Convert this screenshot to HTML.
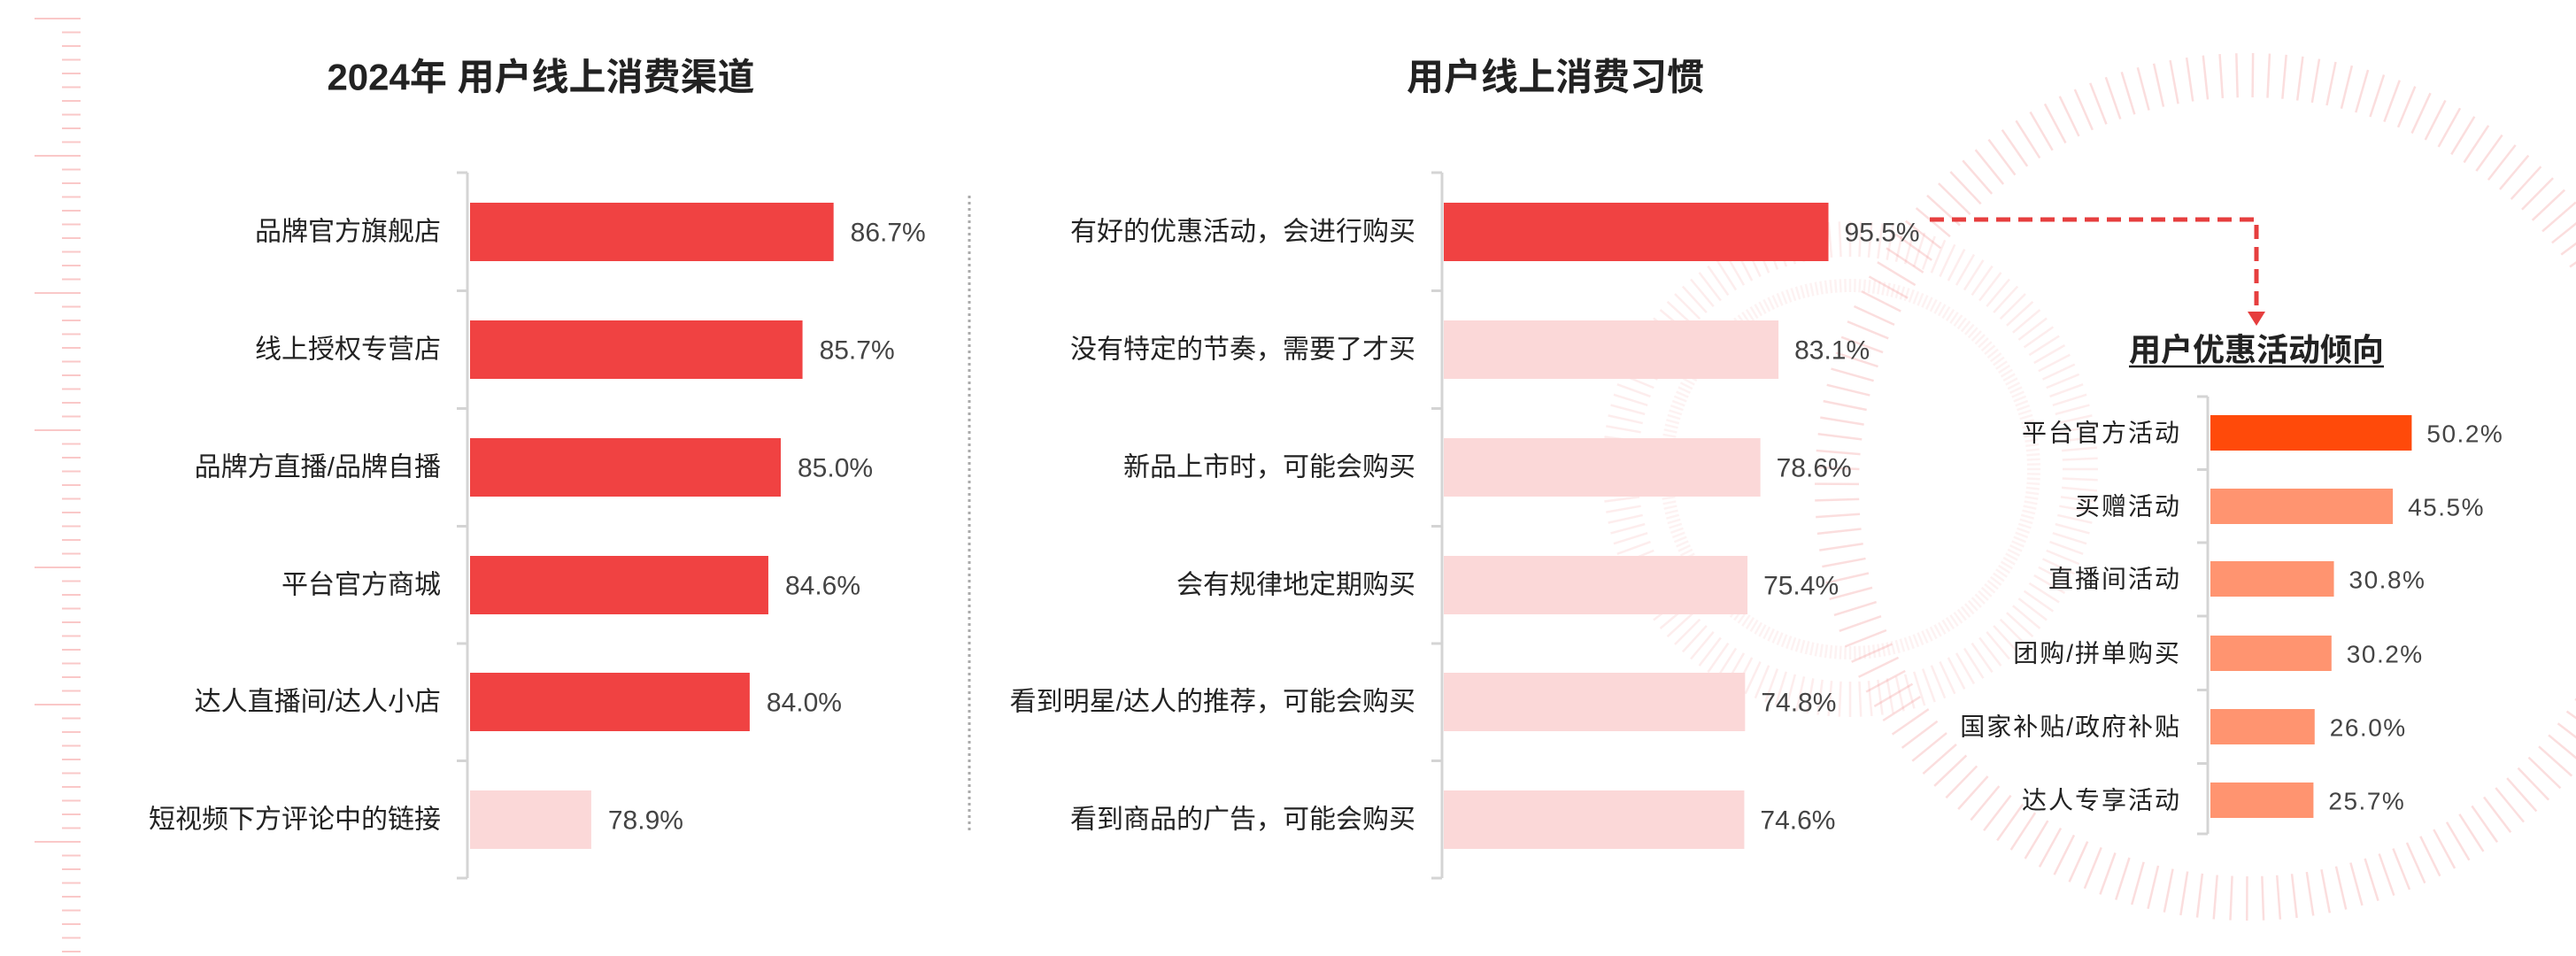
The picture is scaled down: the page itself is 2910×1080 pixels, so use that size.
<!DOCTYPE html>
<html><head><meta charset="utf-8">
<style>
html,body{margin:0;padding:0;background:#fff;}
#wrap{position:relative;width:2910px;height:1080px;overflow:hidden;background:#fff;font-family:"Liberation Sans","Noto Sans CJK SC",sans-serif;}
svg{position:absolute;left:0;top:0;}
</style></head>
<body>
<div id="wrap">
<svg id="svg" width="2910" height="1080" viewBox="0 0 2910 1080">
  <g id="deco"></g>
  <g id="c1"></g>
  <g id="c2"></g>
  <g id="c3"></g>
</svg>
</div>
<script>
// ---- data ----
const channelCats = ["品牌官方旗舰店","线上授权专营店","品牌方直播/品牌自播","平台官方商城","达人直播间/达人小店","短视频下方评论中的链接"];
const channelVals = [86.7,85.7,85.0,84.6,84.0,78.9];
const channelLabels = ["86.7%","85.7%","85.0%","84.6%","84.0%","78.9%"];
const habitCats = ["有好的优惠活动，会进行购买","没有特定的节奏，需要了才买","新品上市时，可能会购买","会有规律地定期购买","看到明星/达人的推荐，可能会购买","看到商品的广告，可能会购买"];
const habitVals = [95.5,83.1,78.6,75.4,74.8,74.6];
const habitLabels = ["95.5%","83.1%","78.6%","75.4%","74.8%","74.6%"];
const promoCats = ["平台官方活动","买赠活动","直播间活动","团购/拼单购买","国家补贴/政府补贴","达人专享活动"];
const promoVals = [50.2,45.5,30.8,30.2,26.0,25.7];
const promoLabels = ["50.2%","45.5%","30.8%","30.2%","26.0%","25.7%"];

const NS="http://www.w3.org/2000/svg";
function mk(tag,attrs,parent){const e=document.createElementNS(NS,tag);for(const k in attrs)e.setAttribute(k,attrs[k]);parent.appendChild(e);return e;}

// ---- decoration ----
const deco=document.getElementById('deco');
for(let i=0;i<70;i++){
  const y=21+i*15.5; const long=(i%10===0);
  const l=mk('line',{x1:long?39:70,x2:91,y1:y,y2:y,stroke:'#fac8c8','stroke-width':2},deco);
  
  
}
function ring(cx,cy,r1,r2,step,op){
  for(let a=0;a<360;a+=step){
    const t=a*Math.PI/180;
    const l=mk('line',{x1:cx+r1*Math.cos(t),y1:cy+r1*Math.sin(t),x2:cx+r2*Math.cos(t),y2:cy+r2*Math.sin(t),stroke:'#f28a8a','stroke-width':2.5,opacity:op},deco);
    
    
  }
}
ring(2540,550,440,490,2.2,0.28);
ring(2090,530,240,280,2.5,0.15);
ring(2090,530,200,215,1.5,0.1);

// ---- generic bar chart ----
function barChart(g,cfg){
  const {cats,vals,labels,x0,scale,yc,bh,axisTop,axisBot,labelRight,fs,vfs,colors,gap,lblColor,valColor,lsp}=cfg;
  const xs=v=>x0+v*scale;
  const ax=mk('line',{x1:cfg.axisX,x2:cfg.axisX,y1:axisTop,y2:axisBot,stroke:'#d4d4d4','stroke-width':3},g);
  
  
  for(let i=0;i<=cats.length;i++){
    const ty=(i===0)?axisTop:(i===cats.length?axisBot:(yc[i-1]+yc[i])/2);
    const t=mk('line',{x1:cfg.axisX-12,x2:cfg.axisX,y1:ty,y2:ty,stroke:'#d4d4d4','stroke-width':3},g);
    
    
  }
  cats.forEach((c,i)=>{
    const y=yc[i];
    const x1=xs(cfg.min),x2=xs(vals[i]);
    const r=mk('rect',{x:x1,y:y-bh/2,width:Math.max(0,x2-x1),height:bh,fill:colors[i]},g);
    
    
    const t=mk('text',{x:labelRight,y:y,'font-size':fs,fill:lblColor,'text-anchor':'end','dominant-baseline':'central','letter-spacing':lsp||0},g);
    t.textContent=c;
    
    
    const v=mk('text',{x:x2+gap,y:y+1,'font-size':vfs,fill:valColor,'dominant-baseline':'central','letter-spacing':cfg.vsp||0},g);
    v.textContent=labels[i];
    
    
  });
}
const rows=[262,395,528,661,793,926];
const RED='#F04242', PINK='#FBD8D8';

// chart 1
const c1=document.getElementById('c1');
const t1=mk('text',{x:611,y:87,'font-size':42,'font-weight':'bold',fill:'#222','text-anchor':'middle','dominant-baseline':'central'},c1);
t1.textContent='2024年 用户线上消费渠道';


barChart(c1,{cats:channelCats,vals:channelVals,labels:channelLabels,min:75,x0:531-75*35.1,scale:35.1,yc:rows,bh:66,axisX:528,axisTop:195,axisBot:992,labelRight:498,fs:30,vfs:30,colors:channelVals.map((v,i)=>i<5?RED:PINK),gap:19,lblColor:'#222',valColor:'#444'});

// separator
const sep=mk('line',{x1:1095,x2:1095,y1:221,y2:940,stroke:'#aaa','stroke-width':3,'stroke-dasharray':'3 4'},document.getElementById('svg'));



// chart 2
const c2=document.getElementById('c2');
const t2=mk('text',{x:1757,y:87,'font-size':42,'font-weight':'bold',fill:'#222','text-anchor':'middle','dominant-baseline':'central'},c2);
t2.textContent='用户线上消费习惯';


barChart(c2,{cats:habitCats,vals:habitVals,labels:habitLabels,min:0,x0:1631,scale:4.55,yc:rows,bh:66,axisX:1629,axisTop:195,axisBot:992,labelRight:1599,fs:30,vfs:30,colors:habitVals.map((v,i)=>i===0?RED:PINK),gap:18,lblColor:'#222',valColor:'#444'});

// dashed arrow
const svg=document.getElementById('svg');
const arr=mk('path',{d:'M2180 248 H2549 V352',fill:'none',stroke:'#E63E3E','stroke-width':5,'stroke-dasharray':'16 9'},svg);


const head=mk('polygon',{points:'2539,352 2559,352 2549,368',fill:'#E63E3E'},svg);



// chart 3
const c3=document.getElementById('c3');
const t3=mk('text',{x:2549,y:395,'font-size':36,'font-weight':'bold',fill:'#222','text-anchor':'middle','dominant-baseline':'central'},c3);
t3.textContent='用户优惠活动倾向';


const ul=mk('line',{x1:2405,x2:2693,y1:414,y2:414,stroke:'#222','stroke-width':2.5},c3);


barChart(c3,{cats:promoCats,vals:promoVals,labels:promoLabels,min:0,x0:2497,scale:4.53,yc:[489,572,654,738,821,904],bh:40,axisX:2494,axisTop:448,axisBot:942,labelRight:2464,fs:28,vfs:28,lsp:2,vsp:1.5,colors:promoVals.map((v,i)=>i===0?'#FF4A0A':'#FF9470'),gap:17,lblColor:'#222',valColor:'#444'});
</script>
</body></html>
